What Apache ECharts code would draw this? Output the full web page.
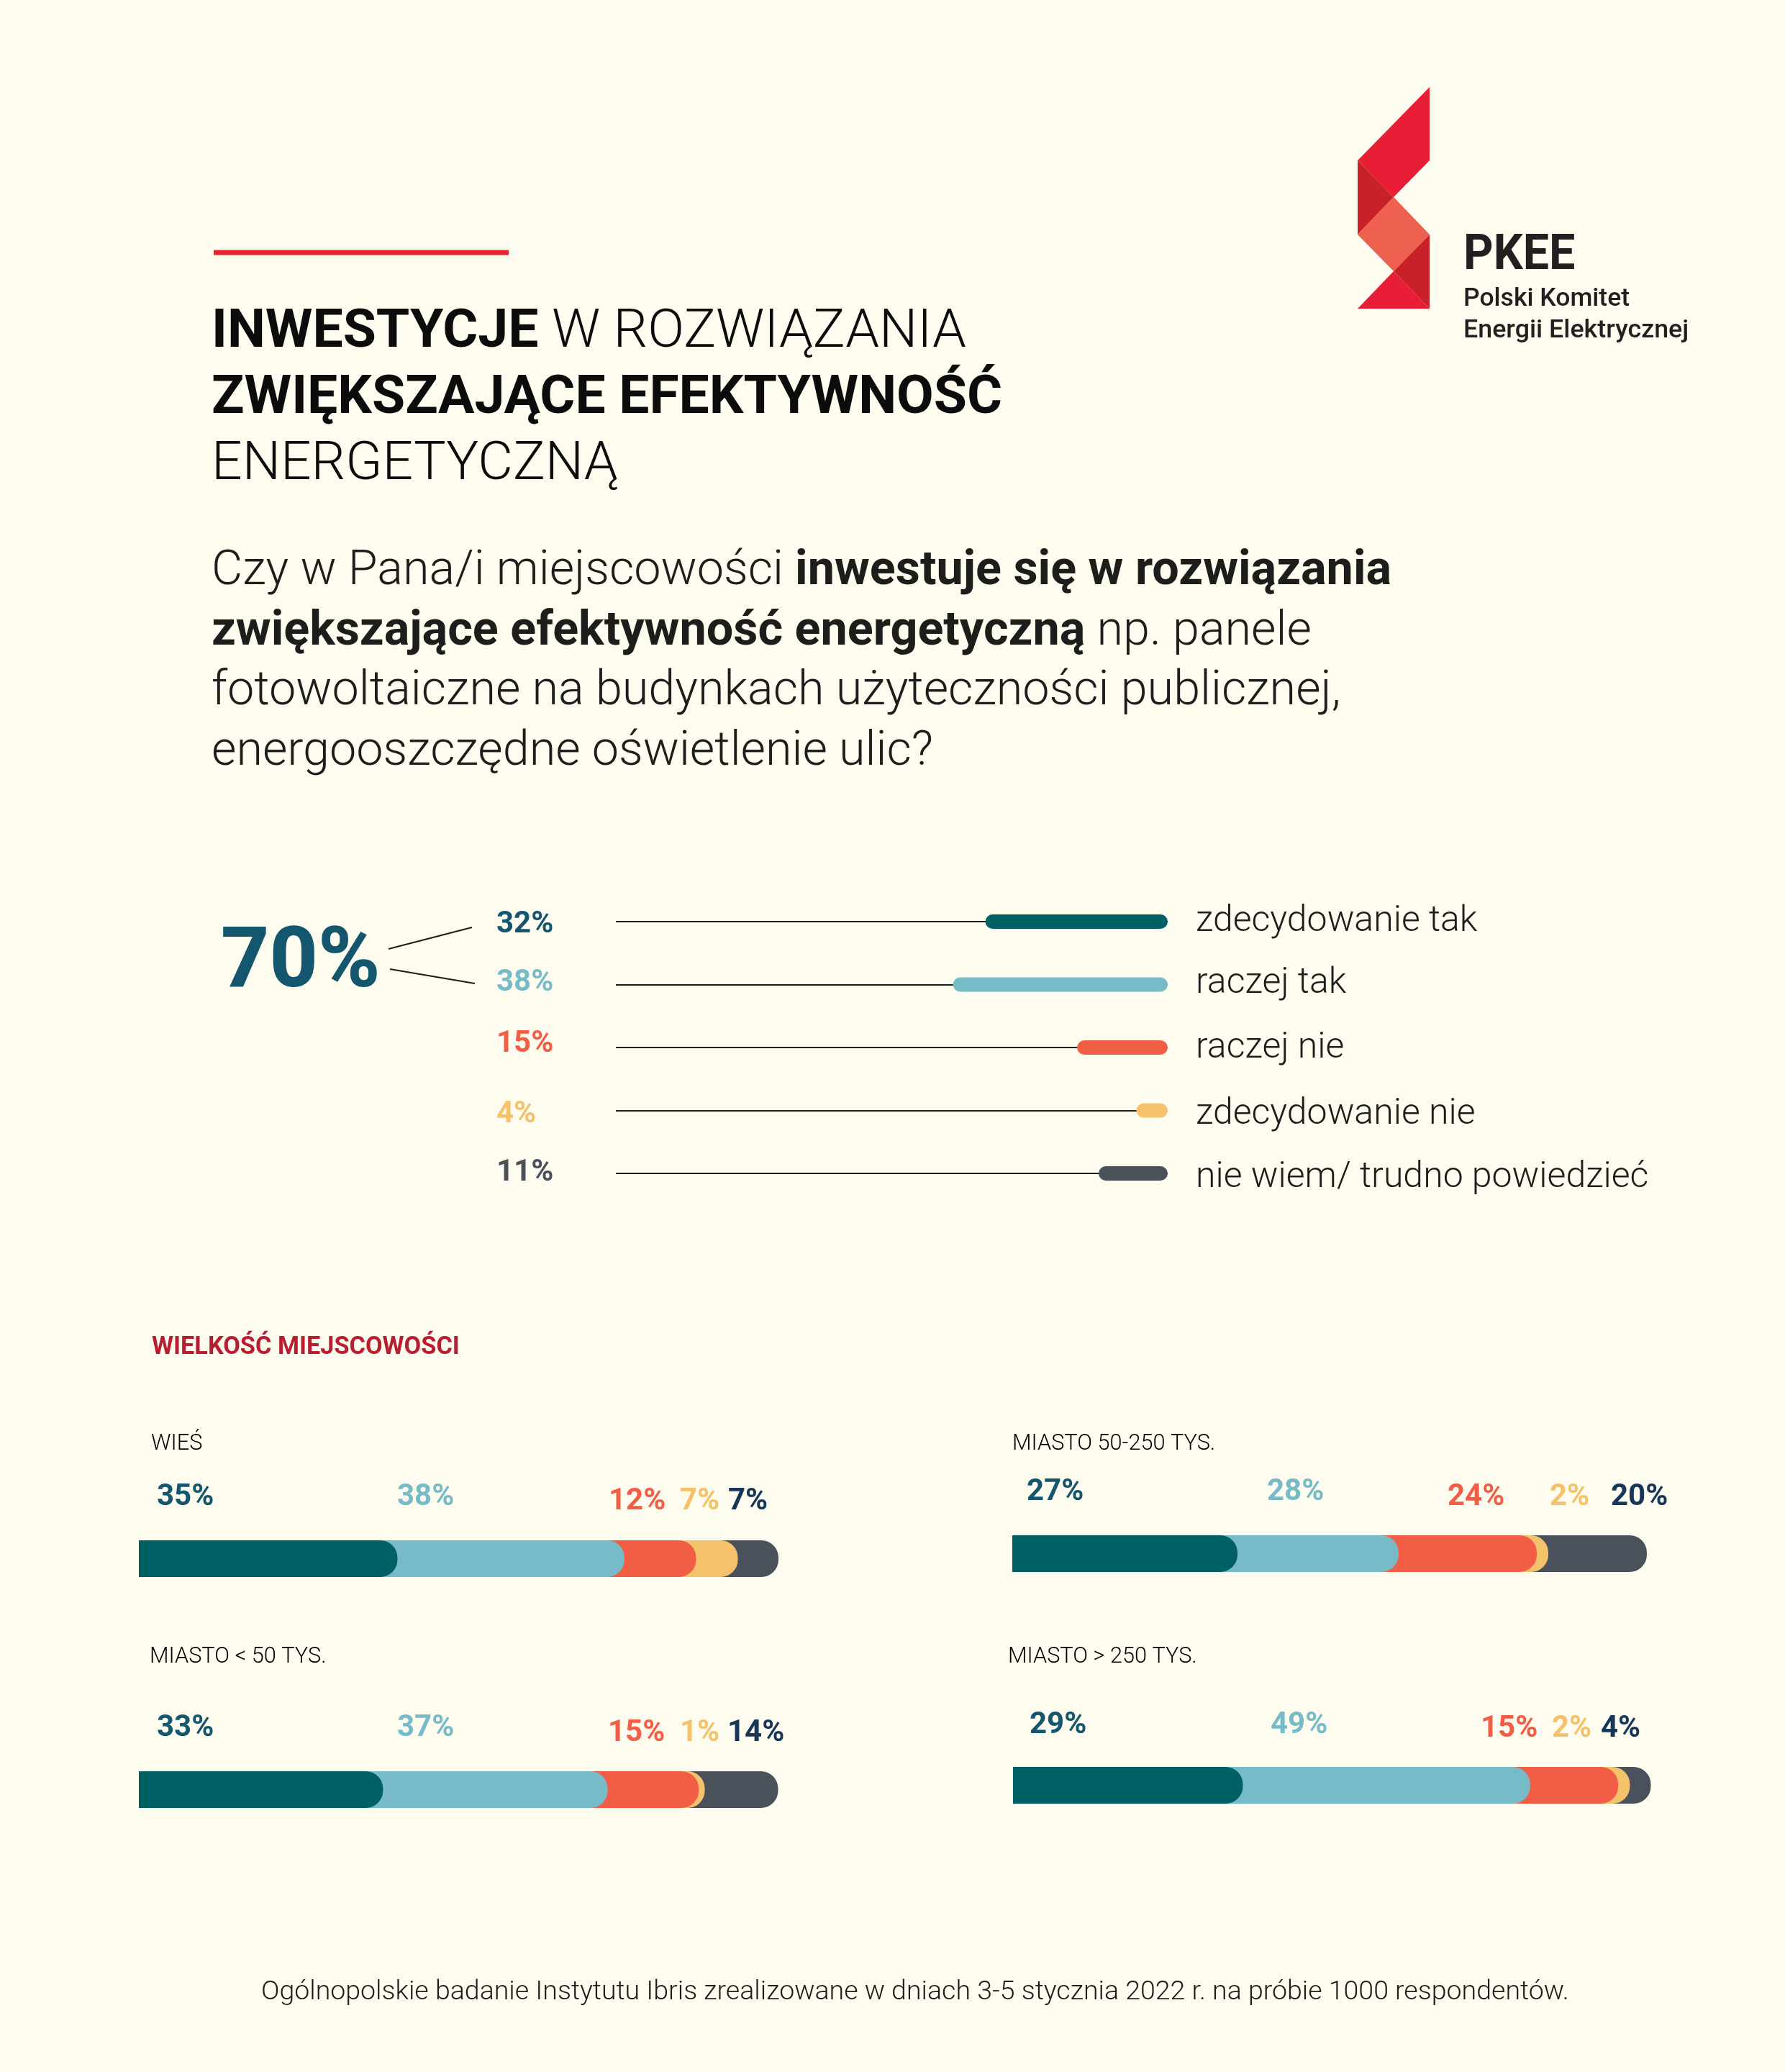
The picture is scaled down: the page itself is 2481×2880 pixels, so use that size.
<!DOCTYPE html>
<html>
<head>
<meta charset="utf-8">
<title>PKEE</title>
<script src="https://cdn.jsdelivr.net/npm/echarts@6/dist/echarts.min.js"></script>
<style>
  html, body { margin: 0; padding: 0; background: #FEFCEE; }
  #main { width: 2481px; height: 2880px; }
</style>
</head>
<body>
<div id="main"></div>
<script>
// wszystkie odpowiedzi
var answers = ['zdecydowanie tak', 'raczej tak', 'raczej nie', 'zdecydowanie nie', 'nie wiem/ trudno powiedzieć'];
var answerValues = [32, 38, 15, 4, 11];
var totalYes = 70;

// wielkosc miejscowosci
var wiesValues = [35, 38, 12, 7, 7];
var miasto50Values = [33, 37, 15, 1, 14];
var miasto250Values = [27, 28, 24, 2, 20];
var miastoBigValues = [29, 49, 15, 2, 4];

var answerColors = ['#006165', '#78BBC8', '#F25D45', '#F4C26B', '#4A515B'];
var font = 'Roboto';

var option = {
  backgroundColor: '#FEFCEE',
  animation: false,
  grid: [],
  xAxis: [],
  yAxis: [],
  series: [],
  graphic: []
};

function txt(x, y, text, size, weight, color, extra, sx) {
  var style = {
    x: 0, y: 0, text: text, fill: color,
    fontFamily: font, fontSize: size, fontWeight: weight,
    textAlign: 'left', textVerticalAlign: 'middle'
  };
  for (var k in extra) style[k] = extra[k];
  option.graphic.push({ type: 'text', x: x, y: y, scaleX: sx || 1, style: style, silent: true });
}

function poly(points, color) {
  option.graphic.push({ type: 'polygon', shape: { points: points }, style: { fill: color }, silent: true });
}

function line(x1, y1, x2, y2, color, w) {
  option.graphic.push({ type: 'line', shape: { x1: x1, y1: y1, x2: x2, y2: y2 }, style: { stroke: color, lineWidth: w }, silent: true });
}

// pasek od poczatku osi (min) do wartosci, nie dalej niz koniec osi (max)
function barItem(min, max, h, radius, color) {
  return function (params, api) {
    var a = api.coord([min, api.value(1)]);
    var b = api.coord([Math.min(api.value(0), max), api.value(1)]);
    var x = Math.min(a[0], b[0]);
    return {
      type: 'rect',
      shape: { x: x, y: a[1] - h / 2, width: Math.abs(a[0] - b[0]), height: h, r: radius },
      style: { fill: typeof color == 'function' ? color(params.dataIndex) : color }
    };
  };
}

// gorny wykres - slupki od prawej
function addAnswers() {
  var min = -1.8, max = 100.5;
  option.grid.push({ left: 856, top: 1281, width: 767, height: 350 });
  option.xAxis.push({ type: 'value', gridIndex: 0, inverse: true, min: min, max: max, show: false });
  option.yAxis.push({
    type: 'category', gridIndex: 0, data: answers, inverse: true, position: 'right', boundaryGap: false,
    axisLine: { show: false }, axisTick: { show: false }, axisLabel: { show: false },
    splitLine: { show: true, interval: 0, lineStyle: { color: '#1D1D1B', width: 2 } }
  });
  option.series.push({
    type: 'custom', xAxisIndex: 0, yAxisIndex: 0, z: 5,
    encode: { x: 0, y: 1 },
    renderItem: barItem(min, max, 20, 10, function (i) { return answerColors[i]; }),
    data: answerValues.map(function (v, i) { return [v, i]; })
  });
}

// dolne paski - kazdy kolejny kolor schowany pod poprzednim
function addPanel(name, values, cfg) {
  var idx = option.grid.length;
  option.grid.push({ left: cfg.left, top: cfg.top, width: cfg.width, height: 51 });
  option.xAxis.push({ type: 'value', gridIndex: idx, min: cfg.min, max: cfg.max, show: false });
  option.yAxis.push({ type: 'category', gridIndex: idx, data: [name], show: false });
  var sum = 0;
  values.forEach(function (v, i) {
    sum += v;
    option.series.push({
      type: 'custom', name: name, xAxisIndex: idx, yAxisIndex: idx, z: 20 - i,
      encode: { x: 0, y: 1 },
      renderItem: barItem(cfg.min, cfg.max, 51, [0, 24, 24, 0], answerColors[i]),
      data: [[sum, 0]]
    });
  });
  txt(cfg.nameX, cfg.nameY, name, 30.7, 300, '#000');
  values.forEach(function (v, i) {
    var c = i == 0 ? '#15566F' : i == 4 ? '#17375A' : answerColors[i];
    txt(cfg.labelX[i], i < 2 ? cfg.labelY[0] : cfg.labelY[1], v + '%', 42, 700, c);
  });
}

addAnswers();

addPanel('WIEŚ', wiesValues, {
  left: 193, top: 2141, width: 889, min: -8.3, max: 98.8, nameX: 210, nameY: 2007,
  labelX: [218, 552, 846, 945, 1012], labelY: [2081, 2087]
});
addPanel('MIASTO < 50 TYS.', miasto50Values, {
  left: 193, top: 2462, width: 888.5, min: -7.2, max: 98.07, nameX: 208, nameY: 2303,
  labelX: [218, 552, 845, 945, 1011], labelY: [2402, 2409]
});
addPanel('MIASTO 50-250 TYS.', miasto250Values, {
  left: 1407, top: 2134, width: 882, min: -12.125, max: 98.125, nameX: 1407, nameY: 2007,
  labelX: [1427, 1761, 2012, 2154, 2239], labelY: [2074, 2081]
});
addPanel('MIASTO > 250 TYS.', miastoBigValues, {
  left: 1408, top: 2456, width: 886.5, min: -10.2, max: 98.57, nameX: 1401, nameY: 2303,
  labelX: [1431, 1766, 2058, 2157, 2225], labelY: [2398, 2403]
});

// naglowek
line(297, 351, 707, 351, '#E8222F', 7);
txt(294, 555, '{b|INWESTYCJE} {l|W ROZWIĄZANIA}\n{b|ZWIĘKSZAJĄCE EFEKTYWNOŚĆ}\n{l|ENERGETYCZNĄ}', 75, 400, '#0C0C0C', {
  lineHeight: 92,
  rich: {
    b: { fontFamily: font, fontSize: 75, fontWeight: 700, fill: '#0C0C0C', lineHeight: 92 },
    l: { fontFamily: font, fontSize: 75, fontWeight: 300, fill: '#0C0C0C', lineHeight: 92 }
  }
});
txt(294, 921, '{l|Czy w Pana/i miejscowości }{b|inwestuje się w rozwiązania}\n{b|zwiększające efektywność energetyczną}{l| np. panele}\n{l|fotowoltaiczne na budynkach użyteczności publicznej,}\n{l|energooszczędne oświetlenie ulic?}', 66.5, 400, '#1D1D1B', {
  lineHeight: 83.5,
  rich: {
    b: { fontFamily: font, fontSize: 66.5, fontWeight: 700, fill: '#1D1D1B', lineHeight: 83.5 },
    l: { fontFamily: font, fontSize: 66.5, fontWeight: 300, fill: '#1D1D1B', lineHeight: 83.5 }
  }
});

// logo
poly([[1987, 121], [1987, 223], [1937, 274], [1887, 223]], '#E81E36');
poly([[1887, 223], [1937, 274], [1887, 326]], '#C9212A');
poly([[1937, 274], [1987, 326], [1937, 377], [1887, 326]], '#EE604F');
poly([[1987, 326], [1987, 429], [1937, 377]], '#C9212A');
poly([[1937, 377], [1987, 429], [1887, 429]], '#E81E36');
txt(2034, 357, 'PKEE', 68, 700, '#231F20', null, 0.95);
txt(2034, 416, 'Polski Komitet', 35.5, 500, '#231F20');
txt(2034, 460, 'Energii Elektrycznej', 35.8, 500, '#231F20');

// 70%
txt(307, 1342, totalYes + '%', 117, 800, '#15566F');
line(540, 1319, 656, 1289, '#1D1D1B', 2);
line(542, 1347, 660, 1367, '#1D1D1B', 2);
var answerLabelY = [1285, 1366, 1451, 1549, 1630];
var answerTextY = [1281, 1367, 1457, 1549, 1637];
answerValues.forEach(function (v, i) {
  txt(690, answerLabelY[i], v + '%', 42, 700, i == 0 ? '#15566F' : answerColors[i]);
  txt(1662, answerTextY[i], answers[i], 50, 300, '#1D1D1B');
});

txt(211, 1873, 'WIELKOŚĆ MIEJSCOWOŚCI', 34.3, 700, '#B81E30');
txt(363, 2770, 'Ogólnopolskie badanie Instytutu Ibris zrealizowane w dniach 3-5 stycznia 2022 r. na próbie 1000 respondentów.', 37.5, 300, '#1D1D1B');

var myChart = echarts.init(document.getElementById('main'), null, { renderer: 'canvas', devicePixelRatio: 1 });
myChart.setOption(option);
</script>
</body>
</html>
